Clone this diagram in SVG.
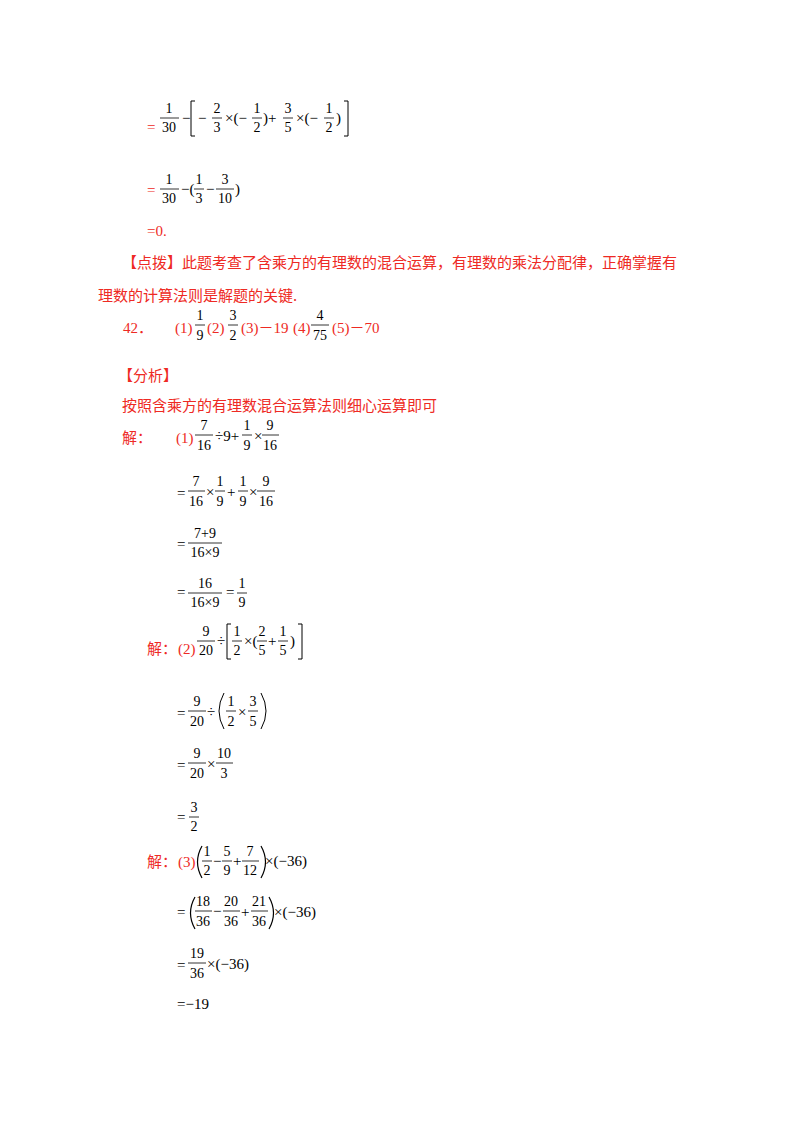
<svg xmlns="http://www.w3.org/2000/svg" width="800" height="1132" viewBox="0 0 800 1132">
<style>
text{font-family:"Liberation Serif","Noto Sans CJK SC",serif;font-size:15px;fill:#000}
.r{fill:#ee2a24}
.c{font-family:"Noto Sans CJK SC",sans-serif;font-size:15px;fill:#ee2a24}
.f{text-anchor:middle;font-size:14px}
line{stroke:#000;stroke-width:0.8}
</style>
<rect width="800" height="1132" fill="#fff"/>
<g id="step1">
<text x="147" y="132" class="r">=</text>
<text x="169" y="113" class="f">1</text><line x1="160" y1="118" x2="179" y2="118"/><text x="169" y="132" class="f">30</text>
<text x="182" y="123">−</text>
<path d="M195 101 H191 V136 H195" fill="none" stroke="#000" stroke-width="1"/>
<text x="198" y="123">−</text>
<text x="217" y="113" class="f">2</text><line x1="212" y1="118" x2="222" y2="118"/><text x="217" y="132" class="f">3</text>
<text x="225" y="123">×(−</text>
<text x="257" y="113" class="f">1</text><line x1="252" y1="118" x2="262" y2="118"/><text x="257" y="132" class="f">2</text>
<text x="263" y="123">)+</text>
<text x="288" y="113" class="f">3</text><line x1="283" y1="118" x2="293" y2="118"/><text x="288" y="132" class="f">5</text>
<text x="296" y="123">×(−</text>
<text x="329" y="113" class="f">1</text><line x1="324" y1="118" x2="334" y2="118"/><text x="329" y="132" class="f">2</text>
<text x="336" y="123">)</text>
<path d="M344 101 H348 V136 H344" fill="none" stroke="#000" stroke-width="1"/>
</g>
<g id="step2">
<text x="147" y="195" class="r">=</text>
<text x="169" y="184" class="f">1</text><line x1="160" y1="189" x2="179" y2="189"/><text x="169" y="203" class="f">30</text>
<text x="181" y="194">−(</text>
<text x="199" y="184" class="f">1</text><line x1="194" y1="189" x2="204" y2="189"/><text x="199" y="203" class="f">3</text>
<text x="206" y="194">−</text>
<text x="225" y="184" class="f">3</text><line x1="216" y1="189" x2="234" y2="189"/><text x="225" y="203" class="f">10</text>
<text x="235" y="194">)</text>
<text x="147" y="236" class="r">=0.</text>
</g>
<text x="122" y="268" class="c">【点拨】此题考查了含乘方的有理数的混合运算，有理数的乘法分配律，正确掌握有</text>
<text x="98" y="301" class="c">理数的计算法则是解题的关键.</text>
<g id="answer42">
<text x="123" y="333" class="r">42．</text><text x="175" y="333" class="r">(1)</text>
<text x="200" y="320" class="f">1</text><line x1="195" y1="325" x2="205" y2="325"/><text x="200" y="340" class="f">9</text>
<text x="207" y="333" class="r">(2)</text>
<text x="233" y="320" class="f">3</text><line x1="228" y1="325" x2="238" y2="325"/><text x="233" y="340" class="f">2</text>
<text x="241" y="333" class="r">(3)－19</text>
<text x="293" y="333" class="r">(4)</text>
<text x="320" y="320" class="f">4</text><line x1="311" y1="325" x2="329" y2="325"/><text x="320" y="340" class="f">75</text>
<text x="332" y="333" class="r">(5)－70</text>
</g>
<text x="118" y="381" class="c">【分析】</text>
<text x="122" y="411" class="c">按照含乘方的有理数混合运算法则细心运算即可</text>
<g id="part1">
<text x="122" y="443" class="c">解：</text><text x="176" y="443" class="r">(1)</text>
<text x="204" y="430" class="f">7</text><line x1="195" y1="435" x2="213" y2="435"/><text x="204" y="450" class="f">16</text>
<text x="215" y="441">÷9+</text>
<text x="247" y="430" class="f">1</text><line x1="242" y1="435" x2="252" y2="435"/><text x="247" y="450" class="f">9</text>
<text x="254" y="441">×</text>
<text x="270" y="430" class="f">9</text><line x1="262" y1="435" x2="279" y2="435"/><text x="270" y="450" class="f">16</text>
<text x="177" y="498">=</text>
<text x="196" y="486" class="f">7</text><line x1="188" y1="491" x2="205" y2="491"/><text x="196" y="506" class="f">16</text>
<text x="206" y="497">×</text>
<text x="220" y="486" class="f">1</text><line x1="215" y1="491" x2="225" y2="491"/><text x="220" y="506" class="f">9</text>
<text x="227" y="497">+</text>
<text x="243" y="486" class="f">1</text><line x1="238" y1="491" x2="248" y2="491"/><text x="243" y="506" class="f">9</text>
<text x="249" y="497">×</text>
<text x="266" y="486" class="f">9</text><line x1="257" y1="491" x2="275" y2="491"/><text x="266" y="506" class="f">16</text>
<text x="177" y="549">=</text>
<text x="205" y="538" class="f">7+9</text><line x1="188" y1="543" x2="222" y2="543"/><text x="205" y="557" class="f">16×9</text>
<text x="177" y="597">=</text>
<text x="205" y="588" class="f">16</text><line x1="188" y1="593" x2="222" y2="593"/><text x="205" y="607" class="f">16×9</text>
<text x="226" y="597">=</text>
<text x="242" y="588" class="f">1</text><line x1="237" y1="593" x2="247" y2="593"/><text x="242" y="607" class="f">9</text>
</g>
<g id="part2">
<text x="147" y="654" class="c">解：</text><text x="178" y="654" class="r">(2)</text>
<text x="206" y="636" class="f">9</text><line x1="197" y1="641" x2="215" y2="641"/><text x="206" y="655" class="f">20</text>
<text x="217" y="646">÷</text>
<path d="M231 624 H227 V659 H231" fill="none" stroke="#000" stroke-width="1"/>
<text x="237" y="636" class="f">1</text><line x1="232" y1="641" x2="242" y2="641"/><text x="237" y="655" class="f">2</text>
<text x="244" y="646">×(</text>
<text x="262" y="636" class="f">2</text><line x1="257" y1="641" x2="267" y2="641"/><text x="262" y="655" class="f">5</text>
<text x="268" y="646">+</text>
<text x="283" y="636" class="f">1</text><line x1="278" y1="641" x2="288" y2="641"/><text x="283" y="655" class="f">5</text>
<text x="290" y="646">)</text>
<path d="M298 624 H302 V659 H298" fill="none" stroke="#000" stroke-width="1"/>
<text x="177" y="718">=</text>
<text x="197" y="706" class="f">9</text><line x1="188" y1="711" x2="206" y2="711"/><text x="197" y="726" class="f">20</text>
<text x="207" y="717">÷</text>
<path d="M224 693 Q214 711 224 729" fill="none" stroke="#000" stroke-width="1"/>
<text x="231" y="706" class="f">1</text><line x1="226" y1="711" x2="236" y2="711"/><text x="231" y="726" class="f">2</text>
<text x="238" y="717">×</text>
<text x="253" y="706" class="f">3</text><line x1="248" y1="711" x2="258" y2="711"/><text x="253" y="726" class="f">5</text>
<path d="M261 693 Q271 711 261 729" fill="none" stroke="#000" stroke-width="1"/>
<text x="177" y="770">=</text>
<text x="197" y="758" class="f">9</text><line x1="188" y1="763" x2="206" y2="763"/><text x="197" y="778" class="f">20</text>
<text x="207" y="769">×</text>
<text x="224" y="758" class="f">10</text><line x1="216" y1="763" x2="233" y2="763"/><text x="224" y="778" class="f">3</text>
<text x="177" y="822">=</text>
<text x="194" y="812" class="f">3</text><line x1="189" y1="817" x2="199" y2="817"/><text x="194" y="831" class="f">2</text>
</g>
<g id="part3">
<text x="147" y="867" class="c">解：</text><text x="178" y="867" class="r">(3)</text>
<path d="M202 846 Q193 862 202 878" fill="none" stroke="#000" stroke-width="1.2"/>
<text x="207" y="856" class="f">1</text><line x1="202" y1="861" x2="212" y2="861"/><text x="207" y="875" class="f">2</text>
<text x="213" y="866">−</text>
<text x="227" y="856" class="f">5</text><line x1="222" y1="861" x2="232" y2="861"/><text x="227" y="875" class="f">9</text>
<text x="233" y="866">+</text>
<text x="250" y="856" class="f">7</text><line x1="242" y1="861" x2="259" y2="861"/><text x="250" y="875" class="f">12</text>
<path d="M261 846 Q270 862 261 878" fill="none" stroke="#000" stroke-width="1.2"/>
<text x="265" y="866">×(−36)</text>
<text x="177" y="917">=</text>
<path d="M195 897 Q186 913 195 929" fill="none" stroke="#000" stroke-width="1.2"/>
<text x="203" y="906" class="f">18</text><line x1="195" y1="911" x2="212" y2="911"/><text x="203" y="926" class="f">36</text>
<text x="213" y="916">−</text>
<text x="231" y="906" class="f">20</text><line x1="223" y1="911" x2="240" y2="911"/><text x="231" y="926" class="f">36</text>
<text x="241" y="917">+</text>
<text x="259" y="906" class="f">21</text><line x1="251" y1="911" x2="268" y2="911"/><text x="259" y="926" class="f">36</text>
<path d="M269 897 Q278 913 269 929" fill="none" stroke="#000" stroke-width="1.2"/>
<text x="274" y="917">×(−36)</text>
<text x="177" y="970">=</text>
<text x="197" y="958" class="f">19</text><line x1="188" y1="963" x2="206" y2="963"/><text x="197" y="978" class="f">36</text>
<text x="207" y="969">×(−36)</text>
<text x="177" y="1009">=−19</text>
</g>
</svg>
